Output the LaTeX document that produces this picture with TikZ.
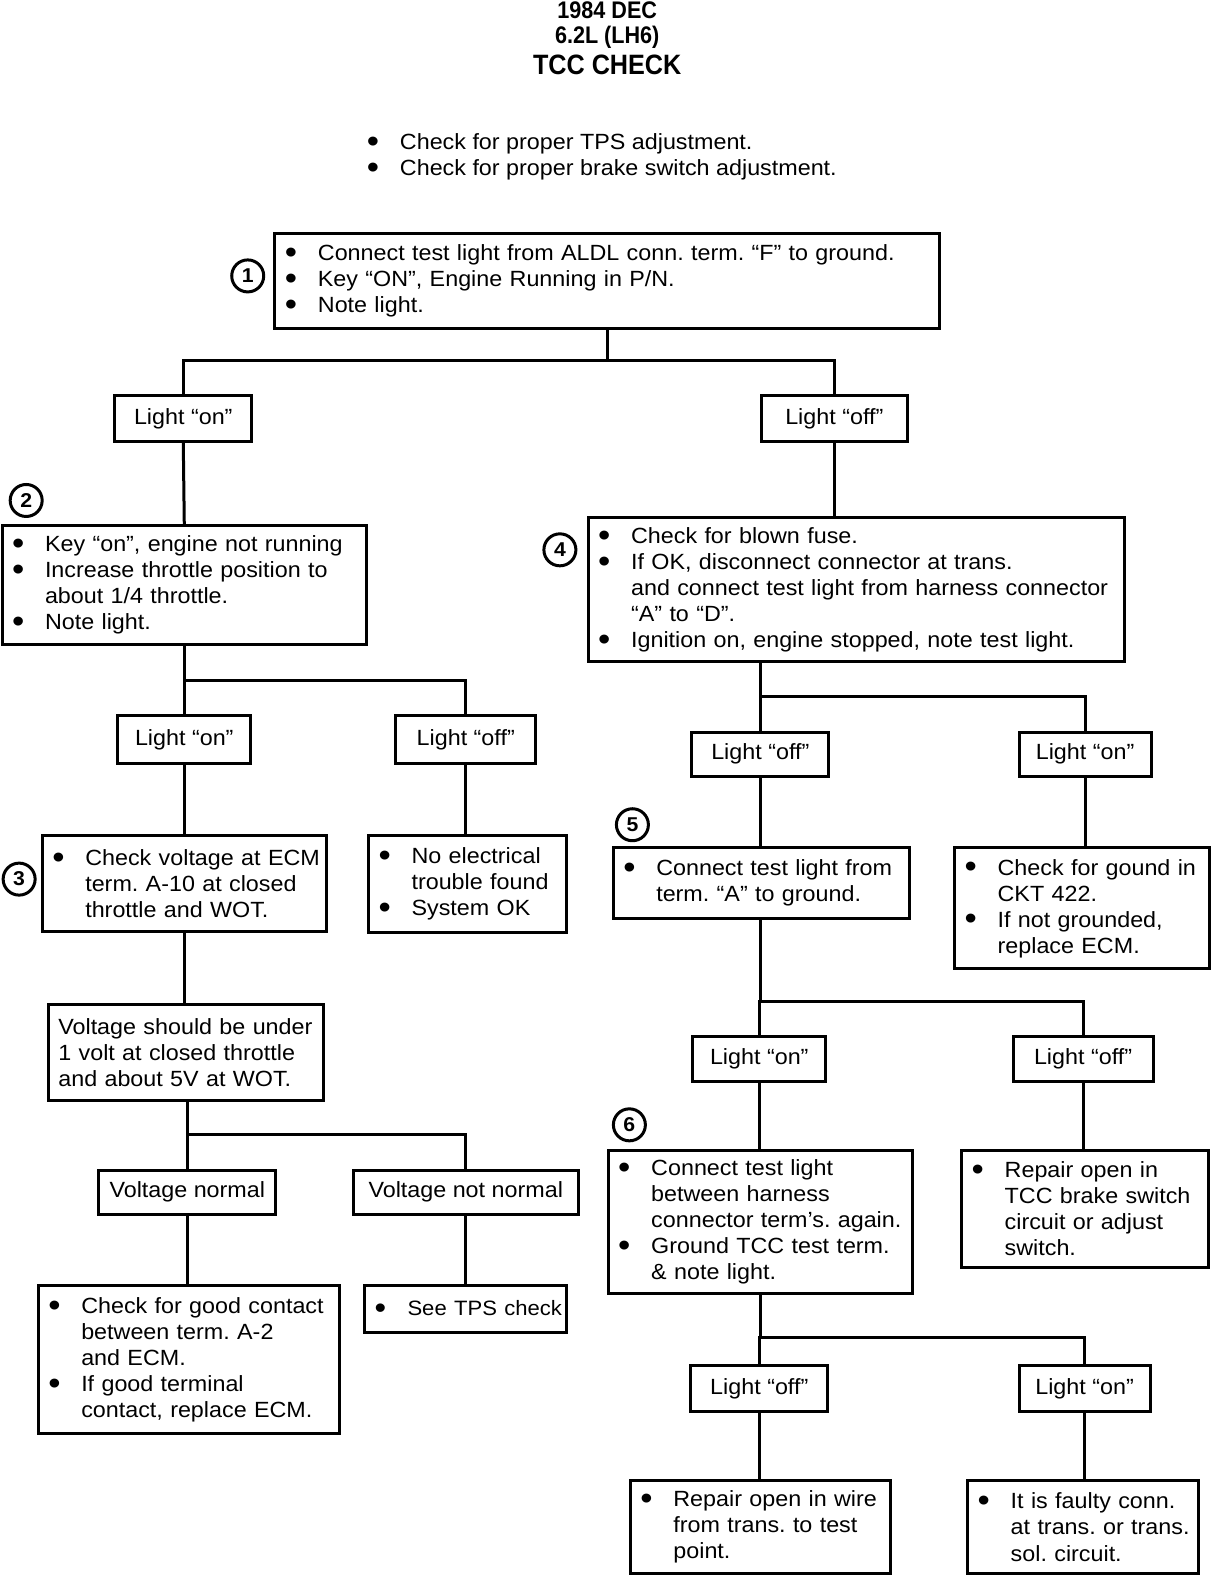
\documentclass[tikz,border=0pt]{standalone}
\usepackage{fontspec}
\usepackage{graphicx}
\setmainfont{Liberation Sans}[FakeStretch=1.06]
\newfontfamily\titlefont{Liberation Sans}[FakeStretch=0.9]
\frenchspacing
\newcommand\bl[1]{\mbox{\makebox[16.5pt][l]{\raisebox{-0.25ex}{\scalebox{1.5}{\textbullet}}}#1}}
\newcommand\cl[1]{\mbox{\hspace*{16.5pt}#1}}
\newcommand\flowbox[6]{%
  \pgfmathsetmacro\bw{(#4-#2)*0.5035}%
  \pgfmathsetmacro\bh{(#5-#3)*0.5035}%
  \pgfmathsetmacro\tw{(#4-#2)*0.5035-10}%
  \node[box, minimum width=\bw pt, minimum height=\bh pt, text width=\tw pt] (#1) at ({(#2+#4)/2},{(#3+#5)/2}) {#6};}
\newcommand\lightbox[6]{%
  \pgfmathsetmacro\bw{(#4-#2)*0.5035}%
  \pgfmathsetmacro\bh{(#5-#3)*0.5035}%
  \node[lbox, minimum width=\bw pt, minimum height=\bh pt] (#1) at ({(#2+#4)/2},{(#3+#5)/2}) {#6};}
\begin{document}
\begin{tikzpicture}[x=0.5035pt,y=-0.5035pt,
  box/.style={draw, line width=1.5pt, rectangle, inner xsep=5pt, inner ysep=0pt, align=left,
    font=\fontsize{11pt}{13pt}\selectfont},
  lbox/.style={draw, line width=1.5pt, rectangle, inner sep=0pt, align=center,
    font=\fontsize{11pt}{13pt}\selectfont},
  num/.style={draw, circle, line width=1.5pt, minimum size=16pt, inner sep=0pt,
    font=\bfseries\fontsize{10pt}{10pt}\selectfont},
  conn/.style={line width=1.5pt}]
\useasboundingbox (0,0) rectangle (1207.55,1567.03);

% title
\node[font=\titlefont\bfseries\fontsize{12pt}{13pt}\selectfont] (t1) at (603,10) {1984 DEC};
\node[font=\titlefont\bfseries\fontsize{12pt}{13pt}\selectfont] (t2) at (603,37) {6.2L (LH6)};
\node[font=\titlefont\bfseries\fontsize{14pt}{15pt}\selectfont] (t3) at (603,64) {TCC CHECK};

\node[anchor=west, inner sep=0pt, align=left, font=\fontsize{11pt}{13pt}\selectfont] (pre) at (364,156)
  {\bl{Check for proper TPS adjustment.}\\ \bl{Check for proper brake switch adjustment.}};

% boxes
\flowbox{b1}{273}{232}{933}{326}{\bl{Connect test light from ALDL conn. term. “F” to ground.}\\
  \bl{Key “ON”,  Engine Running in P/N.}\\ \bl{Note light.}}
\lightbox{l1on}{114}{393}{250}{438}{Light “on”}
\lightbox{l1off}{756}{393}{901}{438}{Light “off”}

\flowbox{b2}{2}{522}{364}{640}{\bl{Key “on”, engine not running}\\ \bl{Increase throttle position to}\\
  \cl{about 1/4 throttle.}\\ \bl{Note light.}}
\lightbox{l2on}{117}{711}{249}{758}{Light “on”}
\lightbox{l2off}{393}{711}{532}{758}{Light “off”}
\flowbox{b3}{42}{830}{324}{925}{\bl{Check voltage at ECM}\\ \cl{term. A-10 at closed}\\ \cl{throttle and WOT.}}
\flowbox{noel}{366}{830}{563}{926}{\bl{No electrical}\\ \cl{trouble found}\\ \bl{System OK}}
\flowbox{volt}{48}{998}{321}{1093}{\mbox{Voltage should be under}\\ \mbox{1 volt at closed throttle}\\ \mbox{and about 5V at WOT.}}
\lightbox{vn}{98}{1162}{274}{1206}{Voltage normal}
\lightbox{vnn}{351}{1162}{574}{1206}{Voltage not normal}
\flowbox{good}{38}{1277}{337}{1424}{\bl{Check for good contact}\\ \cl{between term.  A-2}\\ \cl{and ECM.}\\
  \bl{If good  terminal}\\ \cl{contact, replace ECM.}}
\flowbox{tps}{362}{1277}{563}{1323}{\fontsize{10.4pt}{13pt}\selectfont\bl{See TPS check}}

\flowbox{b4}{584}{514}{1117}{657}{\bl{Check for blown fuse.}\\ \bl{If OK, disconnect connector at trans.}\\
  \cl{and connect test light from harness connector}\\ \cl{“A” to “D”.}\\
  \bl{Ignition on, engine stopped, note test light.}}
\lightbox{l4off}{687}{727}{823}{771}{Light “off”}
\lightbox{l4on}{1012}{727}{1143}{771}{Light “on”}
\flowbox{b5}{609}{842}{903}{912}{\bl{Connect test light from}\\ \cl{term. “A” to ground.}}
\flowbox{gnd}{948}{842}{1201}{962}{\bl{Check for gound in}\\ \cl{CKT 422.}\\ \bl{If not grounded,}\\ \cl{replace ECM.}}
\lightbox{l5on}{688}{1029}{820}{1074}{Light “on”}
\lightbox{l5off}{1006}{1029}{1145}{1074}{Light “off”}
\flowbox{b6}{604}{1142}{906}{1284}{\bl{Connect test light}\\ \cl{between harness}\\ \cl{connector term's. again.}\\
  \bl{Ground TCC test term.}\\ \cl{\& note light.}}
\flowbox{rtcc}{955}{1142}{1200}{1259}{\bl{Repair open in}\\ \cl{TCC brake switch}\\ \cl{circuit or adjust}\\ \cl{switch.}}
\lightbox{l6off}{686}{1356}{822}{1402}{Light “off”}
\lightbox{l6on}{1012}{1356}{1142}{1402}{Light “on”}
\flowbox{rwire}{626}{1470}{884}{1563}{\bl{Repair open in wire}\\ \cl{from trans. to test}\\ \cl{point.}}
\flowbox{faulty}{961}{1470}{1190}{1563}{\bl{It is faulty conn.}\\ \cl{at trans. or trans.}\\ \cl{sol. circuit.}}

% step numbers
\node[num] (c1) at (246,274) {1};
\node[num] (c2) at (26,497) {2};
\node[num] (c3) at (19,873) {3};
\node[num] (c4) at (556,546) {4};
\node[num] (c5) at (628,819) {5};
\node[num] (c6) at (625,1117) {6};

% junctions
\coordinate (j1) at (603,358);
\coordinate (j2) at (183,676);
\coordinate (j3) at (186,1127);
\coordinate (j4) at (755,692);
\coordinate (j5) at (755,995);
\coordinate (j6) at (755,1328);

% connectors
\draw[conn] (b1.south) -- (j1);
\draw[conn] (l1on.north) |- (j1) -| (l1off.north);
\draw[conn] (l1on.south) -- (b2.north);
\draw[conn] (l1off.south) -- (l1off.south |- b4.north);
\draw[conn] (b2.south) -- (j2);
\draw[conn] (l2on.north) |- (j2) -| (l2off.north);
\draw[conn] (l2on.south) -- (b3.north);
\draw[conn] (l2off.south) -- (l2off.south |- noel.north);
\draw[conn] (b3.south) -- (b3.south |- volt.north);
\draw[conn] (volt.south -| j3) -- (j3);
\draw[conn] (vn.north) |- (j3) -| (vnn.north);
\draw[conn] (vn.south) -- (vn.south |- good.north);
\draw[conn] (vnn.south) -- (tps.north);
\draw[conn] (b4.south -| j4) -- (j4);
\draw[conn] (l4off.north) |- (j4) -| (l4on.north);
\draw[conn] (l4off.south) -- (l4off.south |- b5.north);
\draw[conn] (l4on.south) -- (l4on.south |- gnd.north);
\draw[conn] (b5.south -| j5) -- (j5);
\draw[conn] (l5on.north) |- (j5) -| (l5off.north);
\draw[conn] (l5on.south) -- (l5on.south |- b6.north);
\draw[conn] (l5off.south) -- (l5off.south |- rtcc.north);
\draw[conn] (b6.south -| j6) -- (j6);
\draw[conn] (l6off.north) |- (j6) -| (l6on.north);
\draw[conn] (l6off.south) -- (l6off.south |- rwire.north);
\draw[conn] (l6on.south) -- (l6on.south |- faulty.north);
\end{tikzpicture}
\end{document}
